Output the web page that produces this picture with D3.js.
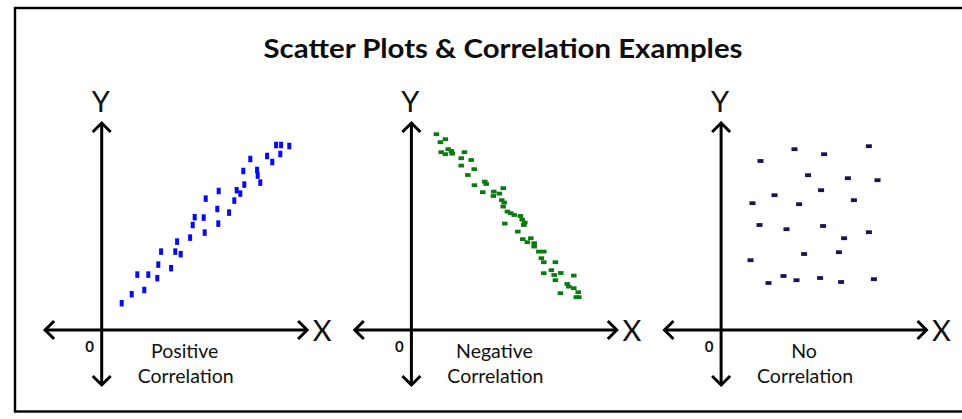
<!DOCTYPE html>
<html>
<head>
<meta charset="utf-8">
<script src="https://cdn.jsdelivr.net/npm/d3@7"></script>
<style>
  html, body { margin: 0; padding: 0; background: #fff; }
  svg { display: block; }
</style>
</head>
<body>
<script>
// ---- Data ---------------------------------------------------------------
const chartTitle = "Scatter Plots & Correlation Examples";
const panelLabels = ["Positive", "Negative", "No"];
const captionSecondLine = "Correlation";
const axisNames = ["X", "Y"];
const originLabel = "0";

// Positive correlation
const positiveX = [1.00, 1.50, 2.13, 1.78, 2.33, 2.78, 2.83, 2.97, 3.47, 3.68, 3.95, 3.77, 4.42,
  4.55, 4.65, 5.10, 5.15, 5.20, 5.78, 5.83, 5.85, 6.37, 6.63, 6.75, 6.93, 7.13, 7.08, 7.43,
  7.77, 7.80, 7.93, 8.27, 8.53, 8.72, 8.97, 8.93, 9.38];
const positiveY = [1.34, 1.79, 2.00, 2.77, 2.77, 2.59, 3.27, 3.92, 3.09, 3.92, 3.79, 4.42, 4.62,
  5.25, 5.64, 5.62, 4.87, 6.57, 6.05, 5.32, 6.95, 5.87, 6.47, 6.99, 6.82, 7.27, 7.95, 8.55,
  8.00, 7.72, 7.37, 8.70, 8.40, 9.25, 9.25, 8.80, 9.20];

// Negative correlation
const negativeX = [1.25, 1.45, 1.70, 1.49, 1.70, 1.84, 2.00, 2.04, 2.65, 2.49, 2.99, 2.49, 3.14,
  2.82, 3.15, 3.67, 3.74, 3.57, 4.12, 4.10, 4.40, 4.59, 4.52, 4.64, 4.59, 4.80, 4.97, 5.14,
  5.45, 5.54, 5.67, 5.62, 4.67, 5.32, 5.57, 5.97, 5.80, 6.14, 6.14, 6.37, 6.62, 6.50, 6.62,
  7.20, 6.62, 7.00, 7.14, 7.47, 7.20, 8.12, 7.79, 7.87, 8.12, 8.34, 7.45, 8.37, 8.24];
const negativeY = [9.79, 9.39, 9.54, 8.89, 8.79, 9.04, 8.95, 8.82, 8.89, 8.59, 8.50, 8.22, 8.04,
  7.75, 7.24, 7.42, 7.30, 6.89, 6.92, 6.70, 6.82, 7.09, 6.49, 6.37, 6.17, 5.92, 5.84, 5.75,
  5.70, 5.52, 5.37, 5.25, 5.32, 4.92, 4.54, 4.59, 4.39, 4.34, 4.17, 3.92, 3.92, 3.59, 3.39,
  3.39, 2.84, 2.99, 2.75, 2.85, 2.49, 2.72, 2.30, 2.17, 2.09, 1.89, 1.84, 1.64, 1.64];

// No correlation
const noneX = [3.67, 5.15, 7.39, 1.97, 4.35, 6.34, 7.82, 2.67, 5.00, 1.57, 3.90, 6.64, 1.92,
  3.27, 5.10, 6.15, 7.39, 4.15, 5.89, 1.47, 2.37, 3.12, 3.77, 4.95, 6.00, 7.64];
const noneY = [9.04, 8.79, 9.19, 8.45, 7.74, 7.59, 7.49, 6.74, 6.99, 6.34, 6.29, 6.49, 5.25,
  5.04, 5.20, 4.59, 4.89, 3.80, 3.89, 3.49, 2.35, 2.70, 2.49, 2.60, 2.40, 2.54];

// ---- Layout ---------------------------------------------------------------
const W = 962, H = 419;
const panels = [
  { label: panelLabels[0], xs: positiveX, ys: positiveY, color: "#0707f2", mw: 4, mh: 6.5 },
  { label: panelLabels[1], xs: negativeX, ys: negativeY, color: "#0b7a12", mw: 5.5, mh: 3.8 },
  { label: panelLabels[2], xs: noneX, ys: noneY, color: "#22104f", mw: 6, mh: 3.8 }
];
const firstOriginX = 101.7, panelStep = 309.7, originY = 330;

const svg = d3.select("body").append("svg")
  .attr("width", W).attr("height", H)
  .attr("viewBox", `0 0 ${W} ${H}`);

// Outer frame (open on the right edge of the canvas)
svg.append("rect")
  .attr("x", 15).attr("y", 8)
  .attr("width", 960).attr("height", 403.5)
  .attr("fill", "none").attr("stroke", "#000").attr("stroke-width", 2.4);

// Title
svg.append("text")
  .attr("x", 503).attr("y", 57.5)
  .attr("text-anchor", "middle")
  .attr("font-family", "Lato, 'Open Sans', sans-serif")
  .attr("font-weight", 700)
  .attr("font-size", 26)
  .attr("textLength", 479)
  .attr("lengthAdjust", "spacingAndGlyphs")
  .attr("fill", "#0d0d0d")
  .text(chartTitle);

// Shared scales in data units (origin at 0,0), one unit = 20px
const x = d3.scaleLinear().domain([0, 10]).range([0, 200]);
const y = d3.scaleLinear().domain([0, 10]).range([0, -200]);

const xMin = -2.83, xMax = 10.27, yMin = -2.75, yMax = 10.35;
const arm = 9;

panels.forEach((p, i) => {
  const g = svg.append("g")
    .attr("transform", `translate(${firstOriginX + i * panelStep},${originY})`);

  const axisStyle = sel => sel.attr("fill", "none").attr("stroke", "#000")
    .attr("stroke-width", 3).attr("stroke-linejoin", "miter").attr("stroke-linecap", "butt");

  // X axis with arrowheads both ends
  g.append("line").call(axisStyle)
    .attr("x1", x(xMin) + 1).attr("x2", x(xMax) - 1).attr("y1", y(0)).attr("y2", y(0));
  g.append("path").call(axisStyle)
    .attr("d", `M${x(xMax) - arm},${y(0) - arm}L${x(xMax)},${y(0)}L${x(xMax) - arm},${y(0) + arm}`);
  g.append("path").call(axisStyle)
    .attr("d", `M${x(xMin) + arm},${y(0) - arm}L${x(xMin)},${y(0)}L${x(xMin) + arm},${y(0) + arm}`);

  // Y axis with arrowheads both ends
  g.append("line").call(axisStyle)
    .attr("x1", x(0)).attr("x2", x(0)).attr("y1", y(yMax) + 1).attr("y2", y(yMin) - 1);
  g.append("path").call(axisStyle)
    .attr("d", `M${x(0) - arm},${y(yMax) + arm}L${x(0)},${y(yMax)}L${x(0) + arm},${y(yMax) + arm}`);
  g.append("path").call(axisStyle)
    .attr("d", `M${x(0) - arm},${y(yMin) - arm}L${x(0)},${y(yMin)}L${x(0) + arm},${y(yMin) - arm}`);

  // Axis names
  g.append("text")
    .attr("x", x(xMax) + 15).attr("y", y(0) + 10.5)
    .attr("text-anchor", "middle")
    .attr("font-family", "Lato, 'Open Sans', sans-serif")
    .attr("font-size", 29)
    .attr("fill", "#111")
    .text(axisNames[0]);
  g.append("text")
    .attr("x", x(0) - 1).attr("y", y(yMax) - 11)
    .attr("text-anchor", "middle")
    .attr("font-family", "Lato, 'Open Sans', sans-serif")
    .attr("font-size", 29)
    .attr("fill", "#111")
    .text(axisNames[1]);

  // Origin label
  g.append("text")
    .attr("x", x(-0.6)).attr("y", y(0) + 22)
    .attr("text-anchor", "middle")
    .attr("font-family", "Lato, 'Open Sans', sans-serif")
    .attr("font-weight", 700)
    .attr("font-size", 15)
    .attr("fill", "#111")
    .text(originLabel);

  // Caption (two lines)
  const caption = g.append("text")
    .attr("text-anchor", "middle")
    .attr("font-family", "Lato, 'Open Sans', sans-serif")
    .attr("font-size", 19.5)
    .attr("fill", "#111");
  caption.append("tspan")
    .attr("x", x(4.15)).attr("y", y(0) + 27.5)
    .text(p.label);
  caption.append("tspan")
    .attr("x", x(4.2)).attr("y", y(0) + 52.5)
    .text(captionSecondLine);

  // Points
  const pts = d3.zip(p.xs, p.ys);
  g.append("g").selectAll("rect")
    .data(pts)
    .join("rect")
    .attr("x", d => x(d[0]) - p.mw / 2)
    .attr("y", d => y(d[1]) - p.mh / 2)
    .attr("width", p.mw)
    .attr("height", p.mh)
    .attr("fill", p.color);
});
</script>
</body>
</html>
